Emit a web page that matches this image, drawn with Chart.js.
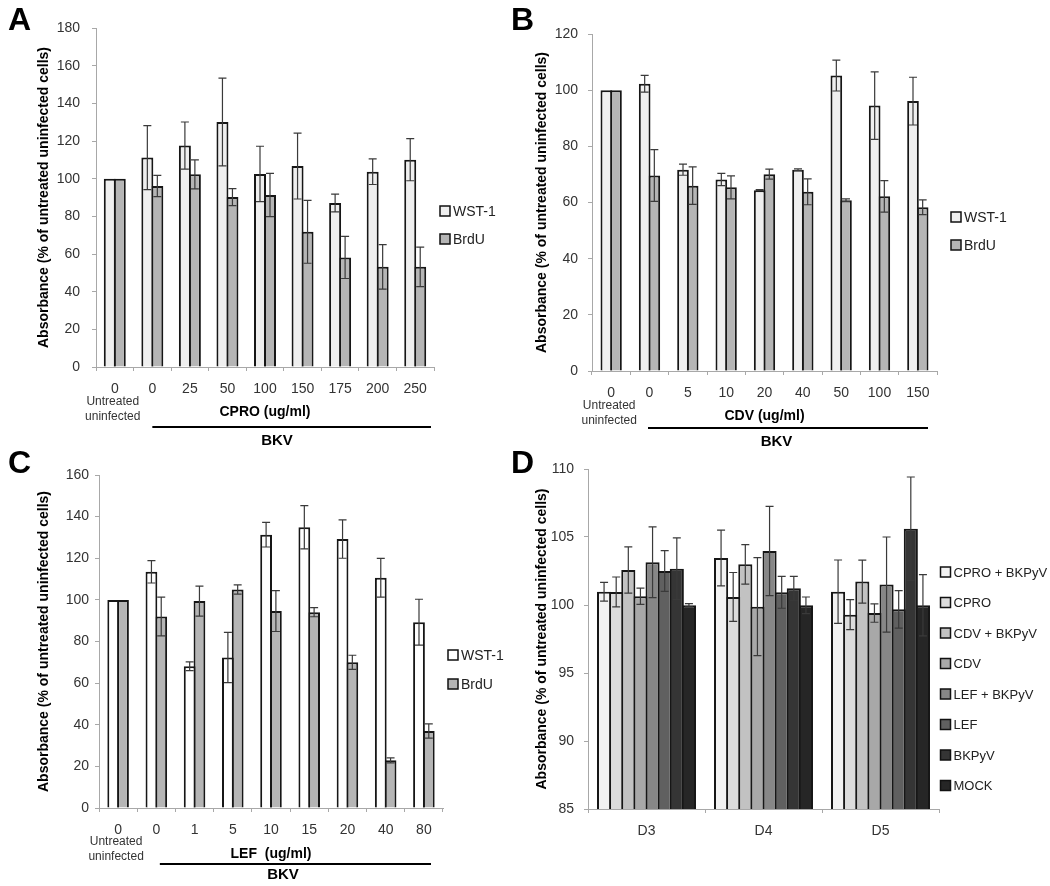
<!DOCTYPE html>
<html><head><meta charset="utf-8">
<script src="https://cdn.jsdelivr.net/npm/chart.js@4.4.1/dist/chart.umd.min.js"></script>
<style>
html,body{margin:0;padding:0;background:#fff;}
#wrap{position:relative;width:1050px;height:886px;overflow:hidden;background:#fff;}
.pc{position:absolute;}
.pc canvas{display:block;}
.letter{position:absolute;font-family:"Liberation Sans",Arial,sans-serif;font-weight:bold;font-size:32px;line-height:32px;color:#000;}
</style></head><body>
<div id="wrap">
  <div class="pc" style="left:0;top:0;"><canvas id="cA" width="525" height="455"></canvas></div>
  <div class="pc" style="left:525px;top:0;"><canvas id="cB" width="525" height="455"></canvas></div>
  <div class="pc" style="left:0;top:443px;"><canvas id="cC" width="525" height="443"></canvas></div>
  <div class="pc" style="left:525px;top:443px;"><canvas id="cD" width="525" height="443"></canvas></div>
  <div class="letter" style="left:8px;top:3px">A</div>
  <div class="letter" style="left:511px;top:3px">B</div>
  <div class="letter" style="left:8px;top:446px">C</div>
  <div class="letter" style="left:511px;top:446px">D</div>
</div>
<script>
// ---------------- DATA ----------------
const seriesNamesABC = ['WST-1', 'BrdU'];

const panelACategories = ['0', '0', '25', '50', '100', '150', '175', '200', '250'];
const panelAYTicks = [0, 20, 40, 60, 80, 100, 120, 140, 160, 180];
const panelAWst = [100, 111.2, 117.6, 130.1, 102.5, 106.7, 87.1, 103.7, 110.1];
const panelAWstErr = [0, 17, 12.5, 23.3, 14.7, 17.5, 4.7, 6.8, 11.2];
const panelABrdu = [100, 96.1, 102.3, 90.2, 91.3, 71.8, 58.2, 53.2, 53.2];
const panelABrduErr = [0, 5.6, 7.7, 4.5, 11.5, 16.7, 11.2, 11.8, 10.5];

const panelBCategories = ['0', '0', '5', '10', '20', '40', '50', '100', '150'];
const panelBYTicks = [0, 20, 40, 60, 80, 100, 120];
const panelBWst = [100, 102.3, 71.7, 68.2, 64.4, 71.7, 105.2, 94.5, 96.1];
const panelBWstErr = [0, 3, 2, 2.2, 0.2, 0.3, 5.5, 12, 8.5];
const panelBBrdu = [100, 69.6, 66, 65.4, 70.1, 63.8, 60.8, 62.2, 58.3];
const panelBBrduErr = [0, 9.2, 6.7, 4.1, 1.8, 4.6, 0.5, 5.6, 2.6];

const panelCCategories = ['0', '0', '1', '5', '10', '15', '20', '40', '80'];
const panelCYTicks = [0, 20, 40, 60, 80, 100, 120, 140, 160];
const panelCWst = [100, 113.5, 68.1, 72.3, 131.3, 134.9, 129.2, 110.6, 89.3];
const panelCWstErr = [0, 5.4, 2.1, 12.1, 5.9, 10.4, 9.2, 9.3, 11];
const panelCBrdu = [100, 92, 99.4, 105, 94.6, 94.1, 70, 22.9, 37];
const panelCBrduErr = [0, 9.3, 7.2, 2.2, 9.8, 2.2, 3.4, 1.2, 3.4];

const panelDCategories = ['D3', 'D4', 'D5'];
const panelDYTicks = [85, 90, 95, 100, 105, 110];
const panelDSeriesNames = ['CPRO + BKPyV', 'CPRO', 'CDV + BKPyV', 'CDV', 'LEF + BKPyV', 'LEF', 'BKPyV', 'MOCK'];
const dCproBk = [100.98, 103.46, 100.98];
const dCproBkErr = [0.69, 2.05, 2.33];
const dCpro = [100.96, 100.59, 99.29];
const dCproErr = [1.1, 1.8, 1.1];
const dCdvBk = [102.57, 102.99, 101.72];
const dCdvBkErr = [1.7, 1.45, 1.58];
const dCdv = [100.64, 99.88, 99.41];
const dCdvErr = [0.6, 3.6, 0.68];
const dLefBk = [103.14, 103.97, 101.5];
const dLefBkErr = [2.6, 3.28, 3.5];
const dLef = [102.5, 100.93, 99.68];
const dLefErr = [1.5, 1.17, 1.38];
const dBk = [102.67, 101.23, 105.61];
const dBkErr = [2.27, 0.88, 3.8];
const dMock = [99.98, 99.98, 99.98];
const dMockErr = [0.12, 0.61, 2.25];

const yTitle = 'Absorbance (% of untreated uninfected cells)';
// --------------------------------------

const FONT = '"Liberation Sans", Arial, sans-serif';
Chart.defaults.font.family = FONT;
Chart.defaults.animation = false;

const errorBars = {
  id: 'errorBars',
  afterDatasetsDraw(chart) {
    const ctx = chart.ctx, ys = chart.scales.y;
    chart.data.datasets.forEach((ds, di) => {
      if (!ds.errors) return;
      const meta = chart.getDatasetMeta(di);
      meta.data.forEach((bar, i) => {
        const e = ds.errors[i];
        if (!e) return;
        const v = ds.data[i];
        const yt = ys.getPixelForValue(v + e), yb = ys.getPixelForValue(v - e);
        ctx.save();
        ctx.strokeStyle = '#3a3a3a';
        ctx.lineWidth = 1.2;
        ctx.beginPath();
        ctx.moveTo(bar.x, yt); ctx.lineTo(bar.x, yb);
        ctx.moveTo(bar.x - 4, yt); ctx.lineTo(bar.x + 4, yt);
        ctx.moveTo(bar.x - 4, yb); ctx.lineTo(bar.x + 4, yb);
        ctx.stroke();
        ctx.restore();
      });
    });
  }
};

const sideLegend = {
  id: 'sideLegend',
  afterDraw(chart, args, o) {
    if (!o || !o.ys) return;
    const ctx = chart.ctx;
    const x = chart.chartArea.right + o.dx;
    ctx.save();
    ctx.font = o.size + 'px ' + FONT;
    ctx.textBaseline = 'middle';
    ctx.textAlign = 'left';
    chart.data.datasets.forEach((ds, i) => {
      const y = o.ys[i];
      ctx.fillStyle = ds.backgroundColor;
      ctx.fillRect(x, y - 5, 10, 10);
      ctx.strokeStyle = '#111';
      ctx.lineWidth = 1.5;
      ctx.strokeRect(x, y - 5, 10, 10);
      ctx.fillStyle = '#222';
      ctx.fillText(ds.label, x + o.gap, y + 1);
    });
    ctx.restore();
  }
};

const belowAxis = {
  id: 'belowAxis',
  afterDraw(chart, args, o) {
    if (!o || !o.drug) return;
    const ctx = chart.ctx, xs = chart.scales.x, ca = chart.chartArea;
    const mid = (ca.left + ca.right) / 2;
    ctx.save();
    ctx.textAlign = 'center';
    ctx.textBaseline = 'middle';
    ctx.fillStyle = '#333';
    ctx.font = '12px ' + FONT;
    const ux = xs.getPixelForValue(0) - 2;
    ctx.fillText('Untreated', ux, o.untreatedY[0]);
    ctx.fillText('uninfected', ux, o.untreatedY[1]);
    ctx.fillStyle = '#000';
    ctx.font = 'bold 14px ' + FONT;
    ctx.fillText(o.drug, mid, o.drugY);
    ctx.strokeStyle = '#000';
    ctx.lineWidth = 2;
    ctx.beginPath();
    ctx.moveTo(xs.getPixelForValue(1) + o.lineOff[0], o.lineY);
    ctx.lineTo(ca.right + o.lineOff[1], o.lineY);
    ctx.stroke();
    ctx.font = 'bold 15px ' + FONT;
    ctx.fillText('BKV', mid + 12, o.bkvY);
    ctx.restore();
  }
};

function makePanel(id, p) {
  const canvas = document.getElementById(id);
  const W = canvas.width, H = canvas.height;
  return new Chart(canvas, {
    type: 'bar',
    data: {
      labels: p.labels,
      datasets: p.series.map(s => ({
        label: s.label, data: s.data, errors: s.err,
        backgroundColor: s.color, borderColor: '#161616', borderWidth: 2,
        borderSkipped: 'bottom',
        categoryPercentage: p.catPct, barPercentage: p.barPct
      }))
    },
    options: {
      responsive: false,
      animation: false,
      layout: { padding: { left: 0, top: p.area.top, right: W - p.area.right, bottom: 0 } },
      plugins: {
        legend: { display: false },
        tooltip: { enabled: false },
        sideLegend: p.legend,
        belowAxis: p.annot || {}
      },
      scales: {
        x: {
          ticks: { font: { size: 14 }, color: '#333', padding: p.xTickPad, maxRotation: 0, autoSkip: false },
          grid: { display: true, drawOnChartArea: false, drawTicks: true, tickLength: 4, color: '#a8a8a8', offset: true },
          border: { display: true, color: '#a8a8a8', width: 1 },
          afterFit: s => { s.height = H - p.area.bottom; }
        },
        y: {
          min: p.yTicks[0], max: p.yTicks[p.yTicks.length - 1],
          afterBuildTicks: s => { s.ticks = p.yTicks.map(v => ({ value: v })); },
          ticks: { font: { size: 14 }, color: '#333', padding: p.yTickPad },
          grid: { display: true, drawOnChartArea: false, drawTicks: true, tickLength: 4, color: '#a8a8a8' },
          border: { display: true, color: '#a8a8a8', width: 1 },
          title: { display: true, text: yTitle, color: '#000', font: { size: 14, weight: 'bold' }, padding: { top: p.titlePad, bottom: 0 } },
          afterFit: s => { s.width = p.area.left; }
        }
      }
    },
    plugins: [errorBars, sideLegend, belowAxis]
  });
}

const WST_A = '#efefef', BRDU = '#b5b5b5';

makePanel('cA', {
  labels: panelACategories, yTicks: panelAYTicks,
  series: [
    { label: seriesNamesABC[0], data: panelAWst, err: panelAWstErr, color: WST_A },
    { label: seriesNamesABC[1], data: panelABrdu, err: panelABrduErr, color: BRDU }
  ],
  area: { left: 96, top: 28, right: 434, bottom: 367 },
  catPct: 0.532, barPct: 1.2, titlePad: 36, yTickPad: 12, xTickPad: 10,
  legend: { dx: 6, gap: 13, size: 14, ys: [211, 239] },
  annot: { drug: 'CPRO (ug/ml)', untreatedY: [402, 417], drugY: 412, lineY: 427, bkvY: 441, lineOff: [0, -3] }
});

makePanel('cB', {
  labels: panelBCategories, yTicks: panelBYTicks,
  series: [
    { label: seriesNamesABC[0], data: panelBWst, err: panelBWstErr, color: WST_A },
    { label: seriesNamesABC[1], data: panelBBrdu, err: panelBBrduErr, color: BRDU }
  ],
  area: { left: 67, top: 34, right: 412, bottom: 371 },
  catPct: 0.504, barPct: 1.207, titlePad: 9, yTickPad: 10, xTickPad: 10,
  legend: { dx: 14, gap: 13, size: 14, ys: [217, 245] },
  annot: { drug: 'CDV (ug/ml)', untreatedY: [406, 421], drugY: 416, lineY: 428, bkvY: 442, lineOff: [-1.5, -9] }
});

makePanel('cC', {
  labels: panelCCategories, yTicks: panelCYTicks,
  series: [
    { label: seriesNamesABC[0], data: panelCWst, err: panelCWstErr, color: '#ffffff' },
    { label: seriesNamesABC[1], data: panelCBrdu, err: panelCBrduErr, color: BRDU }
  ],
  area: { left: 99, top: 32, right: 443, bottom: 365 },
  catPct: 0.512, barPct: 1.204, titlePad: 36, yTickPad: 6, xTickPad: 10,
  legend: { dx: 5, gap: 13, size: 14, ys: [212, 241] },
  annot: { drug: 'LEF  (ug/ml)', untreatedY: [399, 414], drugY: 411, lineY: 421, bkvY: 432, lineOff: [3.5, -12] }
});

const dColors = ['#f2f2f2', '#dcdcdc', '#c2c2c2', '#a8a8a8', '#878787', '#606060', '#353535', '#262626'];
const dData = [dCproBk, dCpro, dCdvBk, dCdv, dLefBk, dLef, dBk, dMock];
const dErr = [dCproBkErr, dCproErr, dCdvBkErr, dCdvErr, dLefBkErr, dLefErr, dBkErr, dMockErr];

makePanel('cD', {
  labels: panelDCategories, yTicks: panelDYTicks,
  series: panelDSeriesNames.map((n, i) => ({ label: n, data: dData[i], err: dErr[i], color: dColors[i] })),
  area: { left: 63, top: 26, right: 414, bottom: 366 },
  catPct: 0.829, barPct: 1.165, titlePad: 9, yTickPad: 10, xTickPad: 10,
  legend: { dx: 1.5, gap: 13, size: 13, ys: [129, 159.5, 190, 220.5, 251, 281.5, 312, 342.5] }
});
</script>
</body></html>
